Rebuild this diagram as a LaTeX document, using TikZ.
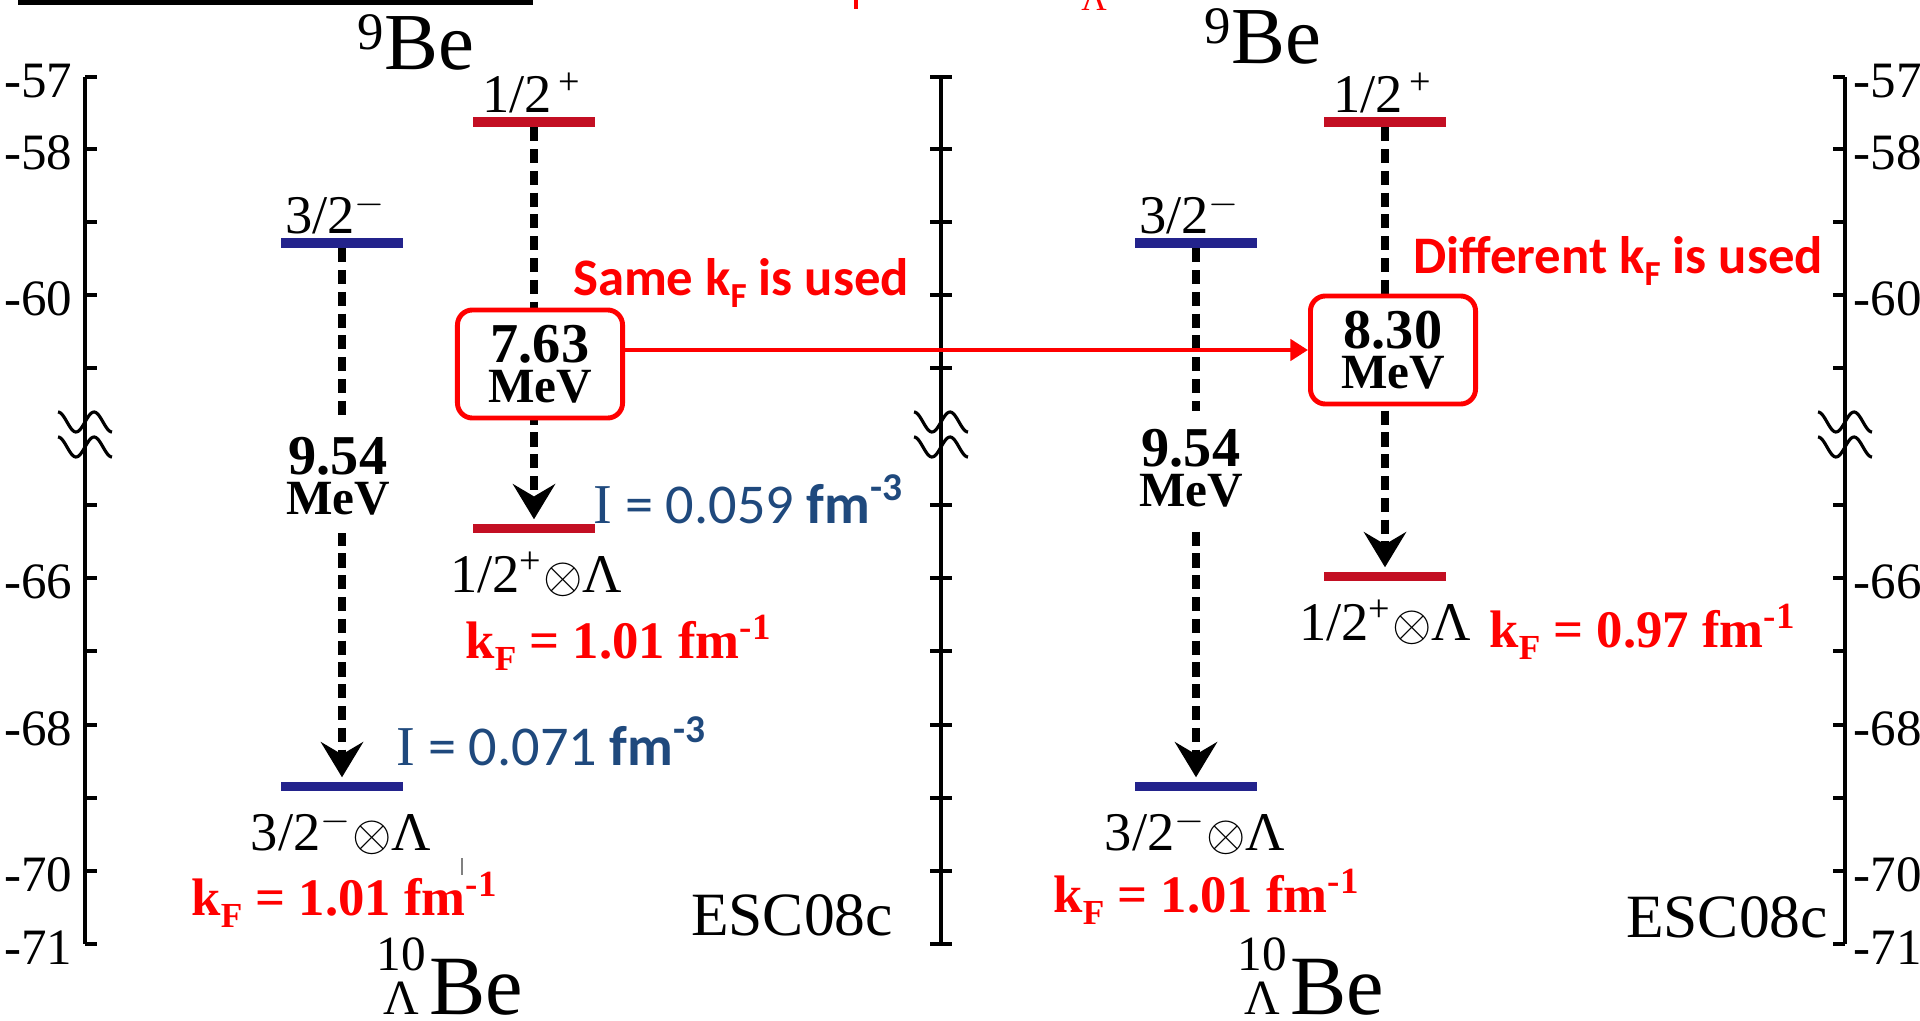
\documentclass[tikz,border=0pt]{standalone}
\usepackage{fontspec}
\setmainfont{Liberation Serif}
\newfontfamily\calib{Carlito}
\usepackage{graphicx}
\usepackage{tikz}
\usetikzlibrary{arrows.meta,calc}

\definecolor{lvblue}{RGB}{35,35,140}
\definecolor{lvred}{RGB}{195,15,35}
\definecolor{iblue}{RGB}{31,73,125}

\newcommand{\fs}[1]{\fontsize{#1}{#1}\selectfont}
\newcommand{\kF}{k\raisebox{-0.23em}{\fs{10}F}}

\begin{document}
\begin{tikzpicture}[x=0.01cm, y=-0.01cm,
  axline/.style={line width=0.9pt},
  brk/.style={line width=0.9pt},
  lvbar/.style={draw=none, inner sep=0pt, minimum width=1.21cm, minimum height=0.09cm},
  trans/.style={line width=2pt, dash pattern=on 4pt off 2.2pt, -{Stealth[length=10pt, width=12pt, inset=3.5pt]}, shorten >=1pt},
  ebox/.style={draw=red, line width=1.4pt, rounded corners=0.15cm, fill=white, inner sep=0pt, minimum width=1.65cm, minimum height=1.08cm, align=center, font=\bfseries\fontsize{14}{11.5}\selectfont},
  gap/.style={fill=white, inner xsep=1pt, inner ysep=5pt, align=center, font=\bfseries\fontsize{14}{11.5}\selectfont},
  link/.style={red, line width=1.2pt, -{Triangle[length=5pt, width=6pt]}},
  tk/.style={inner sep=0pt, font=\fs{14.5}},
  jp/.style={inner sep=0pt, anchor=base, font=\fs{15.5}},
  kf/.style={inner sep=0pt, anchor=base, text=red, font=\bfseries\fs{15}},
  den/.style={inner sep=0pt, anchor=base, text=iblue, font=\calib\fs{16}},
  note/.style={inner sep=0pt, anchor=base, text=red, font=\calib\bfseries\fs{15}},
  model/.style={inner sep=0pt, anchor=base, font=\fs{17.5}},
  nuc/.style={inner sep=0pt, anchor=base}
]
    % 画布范围
    \useasboundingbox (0,0) rectangle (1920,1021);
    \clip (0,0) rectangle (1920,1021);

    % 顶部被裁掉的框和红字
    \draw[line width=1.4pt] (20,-40) rectangle (531,2.5);
    \draw[red, line width=1.4pt] (856,-5) -- (856,9);
    \node[inner sep=0pt, anchor=base, text=red, font=\fs{10}] (cutL) at (1094,11) {Λ};

    % 三条能量轴
    \draw[axline] (85,77) -- (85,944);
    \draw[axline] (941,77) -- (941,944);
    \draw[axline] (1845,77) -- (1845,944);

    % 刻度
    \foreach \y in {77,149,222,295,368,505,578,651,725,798,871,944} {
        \draw[axline] (85,\y) -- (97,\y);
        \draw[axline] (930,\y) -- (952,\y);
        \draw[axline] (1833,\y) -- (1845,\y);
    }

    % 刻度数字
    \foreach \v/\y in {57/77,58/149,60/295,66/578,68/725,70/871,71/944} {
        \node[tk, anchor=east] (yl\v) at (73,\y+4) {-\v};
        \node[tk, anchor=west] (yr\v) at (1853,\y+4) {-\v};
    }

    % 断轴符号
    \foreach \ax in {85,941,1845} {
        \foreach \wy in {422,447} {
            \draw[brk] plot[domain=-27:27, samples=41] ({\ax+\x},{\wy-10*cos(10*(\x+27))});
        }
    }

    % 能级
    \node[lvbar, fill=lvblue] (L1) at (342,243) {};
    \node[lvbar, fill=lvred]  (L2) at (534,122) {};
    \node[lvbar, fill=lvred]  (L3) at (534,528) {};
    \node[lvbar, fill=lvblue] (L4) at (342,786) {};
    \node[lvbar, fill=lvblue] (R1) at (1196,243) {};
    \node[lvbar, fill=lvred]  (R2) at (1385,122) {};
    \node[lvbar, fill=lvred]  (R3) at (1385,576) {};
    \node[lvbar, fill=lvblue] (R4) at (1196,786) {};

    % 跃迁箭头
    \draw[trans] (L1.south) -- (L4.north);
    \draw[trans] (L2.south) -- (L3.north);
    \draw[trans] (R1.south) -- (R4.north);
    \draw[trans] (R2.south) -- (R3.north);

    % 能量差
    \node[gap] (G1) at (338,476) {{\fs{16}9.54}\\MeV};
    \node[gap] (G2) at (1191,468) {{\fs{16}9.54}\\MeV};
    \node[ebox] (E1) at (540,364) {{\fs{16}7.63}\\MeV};
    \node[ebox] (E2) at (1393,350) {{\fs{16}8.30}\\MeV};
    \draw[link] (E1.east |- E2.west) -- (E2.west);

    % 能级标记
    \node[jp] (j1) at (336,233) {3/2\textsuperscript{$-$}};
    \node[jp] (j2) at (532,113) {1/2\textsuperscript{\,+}};
    \node[jp] (j3) at (536,592) {1/2\textsuperscript{+}$\otimes$Λ};
    \node[jp] (j4) at (341,850) {3/2\textsuperscript{$-$}$\otimes$Λ};
    \node[jp] (k1) at (1190,233) {3/2\textsuperscript{$-$}};
    \node[jp] (k2) at (1383,113) {1/2\textsuperscript{\,+}};
    \node[jp] (k3) at (1385,640) {1/2\textsuperscript{+}$\otimes$Λ};
    \node[jp] (k4) at (1195,850) {3/2\textsuperscript{$-$}$\otimes$Λ};

    % k_F 与密度
    \node[kf] (f1) at (619,658) {\kF{} = 1.01 fm\textsuperscript{-1}};
    \node[kf] (f2) at (345,915) {\kF{} = 1.01 fm\textsuperscript{-1}};
    \node[kf] (f3) at (1643,647) {\kF{} = 0.97 fm\textsuperscript{-1}};
    \node[kf] (f4) at (1207,912) {\kF{} = 1.01 fm\textsuperscript{-1}};
    \node[den] (d1) at (749,523) {{\rmfamily I} = 0.059 {\bfseries fm\textsuperscript{-3}}};
    \node[den] (d2) at (552,765) {{\rmfamily I} = 0.071 {\bfseries fm\textsuperscript{-3}}};
    \node[note] (n1) at (741,295) {Same \kF{} is used};
    \node[note] (n2) at (1618,273) {Different \kF{} is used};

    % 核素与模型
    \node[nuc, font=\fs{23}] (be9a) at (416,70) {\raisebox{0.25em}{\fs{15}9}Be};
    \node[nuc, font=\fs{23}] (be9b) at (1263,64) {\raisebox{0.25em}{\fs{15}9}Be};
    \node[nuc, font=\fs{24}] (be10a) at (450,1014) {{\fs{14}\shortstack{10\\Λ}}\kern1pt Be};
    \node[nuc, font=\fs{24}] (be10b) at (1311,1014) {{\fs{14}\shortstack{10\\Λ}}\kern1pt Be};
    \node[model] (m1) at (792,935) {ESC08c};
    \node[model] (m2) at (1727,937) {ESC08c};

    % 小竖线
    \draw[line width=0.4pt, gray] (462,858) -- (462,875);
\end{tikzpicture}
\end{document}
